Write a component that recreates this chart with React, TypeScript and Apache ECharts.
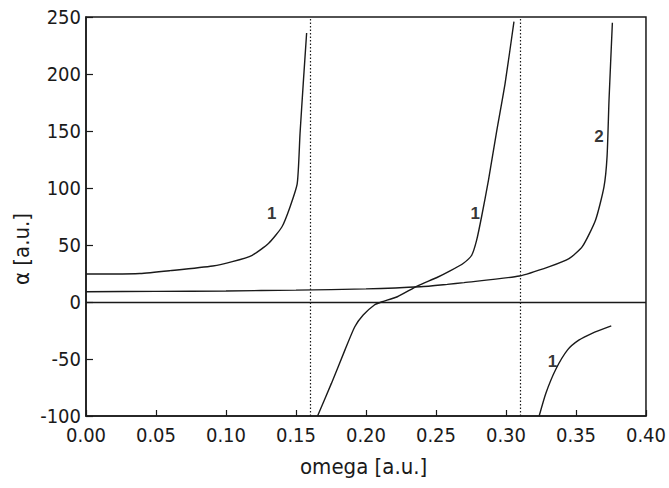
import React, { useEffect, useRef } from "react";
import * as echarts from "echarts";

// omega (a.u.) and alpha (a.u.)
const curve1aOmega = [0, 0.02, 0.0385, 0.06, 0.0905, 0.1045, 0.1187, 0.1305, 0.14, 0.1458, 0.1509, 0.1529, 0.1552, 0.1576];
const curve1aAlpha = [24.6, 24.6, 25, 27.5, 31.6, 35.4, 41, 51.5, 66, 83.6, 104, 148, 192, 236];

const curve1bOmega = [0.1654, 0.1753, 0.185, 0.192, 0.198, 0.206, 0.211, 0.2224, 0.2366, 0.2507, 0.2604, 0.2696, 0.2755, 0.279, 0.2826, 0.2875, 0.2931, 0.2994, 0.3057];
const curve1bAlpha = [-100, -71.4, -42, -21.7, -11.4, -2.6, 0, 4.6, 14, 21.5, 27.5, 34, 41, 54, 75, 107, 148, 192, 246];

const curve1cOmega = [0.3237, 0.3285, 0.3356, 0.344, 0.352, 0.3615, 0.3752];
const curve1cAlpha = [-100, -80, -59, -42, -33.5, -27.5, -21];

const curve2Omega = [0, 0.05, 0.1, 0.15, 0.2, 0.239, 0.258, 0.27, 0.3096, 0.331, 0.345, 0.3545, 0.364, 0.37, 0.3722, 0.3736, 0.376];
const curve2Alpha = [9, 9.3, 9.7, 10.4, 11.5, 13.4, 15.5, 17, 22.8, 31, 38, 48.5, 72, 101, 127.5, 177, 245];

const poleOmegas = [0.16, 0.31];

const labelOmega = [0.1326, 0.278, 0.3333, 0.3665];
const labelAlpha = [78, 78, -52, 145];
const labelText = ["1", "1", "1", "2"];

const xTicks = { min: 0, max: 0.4, interval: 0.05 };
const yTicks = { min: -100, max: 250, interval: 50 };

const zip = (xs: number[], ys: number[]) => xs.map((x, i) => [x, ys[i]]);

const FONT = "'DejaVu Sans Condensed', 'Liberation Sans Narrow', 'Liberation Sans', sans-serif";
const INK = "#1a1a1a";

export default function App() {
  const ref = useRef<HTMLDivElement>(null);
  useEffect(() => {
    document.body.style.margin = "0";
    const chart = echarts.init(ref.current!, null, { renderer: "svg" });
    const lineSeries = (data: number[][]) => ({
      type: "line",
      data,
      showSymbol: false,
      symbol: "none",
      smooth: 0.2,
      lineStyle: { color: INK, width: 1.4 },
      silent: true,
      z: 3,
    });
    chart.setOption({
      animation: false,
      backgroundColor: "#ffffff",
      grid: { left: 86, right: 17, top: 17, bottom: 72, show: true, borderColor: INK, borderWidth: 1.5, backgroundColor: "transparent" },
      xAxis: {
        type: "value",
        min: xTicks.min,
        max: xTicks.max,
        interval: xTicks.interval,
        axisLine: { show: true, onZero: false, lineStyle: { color: INK, width: 1.5 } },
        axisTick: { show: true, inside: true, length: 6, lineStyle: { color: INK, width: 1.2 } },
        splitLine: { show: false },
        axisLabel: { color: INK, fontFamily: FONT, fontSize: 20, margin: 9, formatter: (v: number) => v.toFixed(2) },
      },
      yAxis: {
        type: "value",
        min: yTicks.min,
        max: yTicks.max,
        interval: yTicks.interval,
        axisLine: { show: true, onZero: false, lineStyle: { color: INK, width: 1.5 } },
        axisTick: { show: true, inside: true, length: 7, lineStyle: { color: INK, width: 1.2 } },
        splitLine: { show: false },
        axisLabel: { color: INK, fontFamily: FONT, fontSize: 20, margin: 5 },
      },
      graphic: [
        {
          type: "text",
          left: 300,
          top: 455,
          style: { text: "omega [a.u.]", fontFamily: FONT, fontSize: 22, fill: INK },
        },
        {
          type: "text",
          x: 10,
          y: 285,
          rotation: Math.PI / 2,
          style: { text: "α [a.u.]", fontFamily: FONT, fontSize: 22, fill: INK },
        },
      ],
      series: [
        {
          ...lineSeries(zip(curve1aOmega, curve1aAlpha)),
          markLine: {
            silent: true,
            symbol: "none",
            label: { show: false },
            data: [
              { yAxis: 0, lineStyle: { type: "solid", color: INK, width: 1.3 } },
              ...poleOmegas.map((x) => ({ xAxis: x, lineStyle: { type: [1.5, 2], color: INK, width: 1.2 } })),
            ],
          },
        },
        lineSeries(zip(curve1bOmega, curve1bAlpha)),
        lineSeries(zip(curve1cOmega, curve1cAlpha)),
        lineSeries(zip(curve2Omega, curve2Alpha)),
        {
          type: "scatter",
          symbolSize: 0,
          silent: true,
          data: labelOmega.map((x, i) => ({ value: [x, labelAlpha[i]], name: labelText[i] })),
          label: {
            show: true,
            position: "inside",
            formatter: (p: any) => p.name,
            fontFamily: "'Liberation Sans', Arial, sans-serif",
            fontWeight: "bold",
            fontSize: 17,
            color: "#000000",
            textBorderWidth: 0,
          },
          z: 5,
        },
      ],
    });
    return () => chart.dispose();
  }, []);
  return <div ref={ref} style={{ width: 669, height: 488, position: "absolute", left: 0, top: 0 }} />;
}
